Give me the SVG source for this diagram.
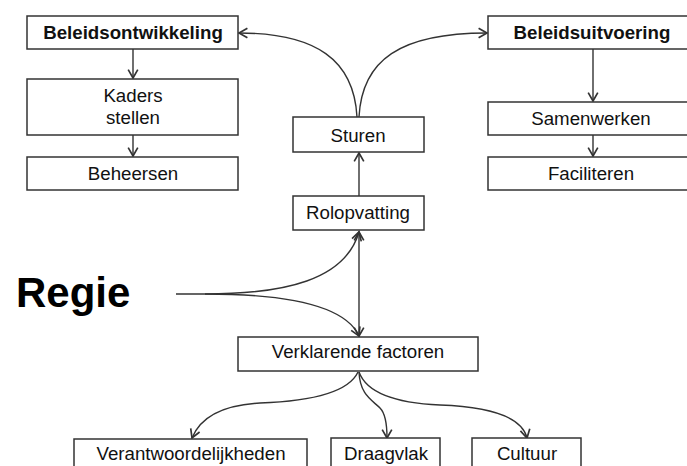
<svg xmlns="http://www.w3.org/2000/svg" width="687" height="466" viewBox="0 0 687 466">
<style>
.box{fill:#fff;stroke:#333;stroke-width:1.5}
.t{font-family:"Liberation Sans",Arial,sans-serif;font-size:18.7px;fill:#111;text-anchor:middle}
.b{font-weight:bold}
.c{fill:none;stroke:#333;stroke-width:1.4}
</style>
<defs>
<marker id="ah" markerUnits="userSpaceOnUse" markerWidth="12" markerHeight="12" refX="8" refY="5" orient="auto-start-reverse" viewBox="0 0 10 10">
<path d="M1,1 L8,5 L1,9" fill="none" stroke="#333" stroke-width="1.4"/>
</marker>
</defs>
<rect width="687" height="466" fill="#fff"/>
<g id="connectors">
<path class="c" d="M133,49 L133,78" marker-end="url(#ah)"/>
<path class="c" d="M133,135 L133,156" marker-end="url(#ah)"/>
<path class="c" d="M593,49 L593,101" marker-end="url(#ah)"/>
<path class="c" d="M593,135 L593,156" marker-end="url(#ah)"/>
<path class="c" d="M359,117 C362,60 400,33 487,33" marker-end="url(#ah)"/>
<path class="c" d="M357,117 C354,60 316,33 239,33" marker-end="url(#ah)"/>
<path class="c" d="M359,196 L359,153" marker-end="url(#ah)"/>
<path class="c" d="M359,232 L359,336" marker-start="url(#ah)" marker-end="url(#ah)"/>
<path class="c" d="M176,294 L205,294 C285,294 345,280 359,232" marker-end="url(#ah)"/>
<path class="c" d="M205,294 C285,294 345,305 359,336" marker-end="url(#ah)"/>
<path class="c" d="M358,372 Q345,400 260,403 Q205,406 192,438" marker-end="url(#ah)"/>
<path class="c" d="M359,372 C360,395 372,400 380,408 C386,414 387,425 387,438" marker-end="url(#ah)"/>
<path class="c" d="M359,372 Q370,402 440,405 Q520,408 527,438" marker-end="url(#ah)"/>
</g>
<g id="beleidsontwikkeling"><rect class="box" x="27" y="16" width="211" height="33"/><text class="t b" x="133" y="39">Beleidsontwikkeling</text></g>
<g id="kaders"><rect class="box" x="27" y="79" width="211" height="56"/><text class="t" x="133" y="102">Kaders</text><text class="t" x="133" y="124">stellen</text></g>
<g id="beheersen"><rect class="box" x="27" y="157" width="211" height="33"/><text class="t" x="133" y="180">Beheersen</text></g>
<g id="beleidsuitvoering"><rect class="box" x="488" y="16" width="210" height="33"/><text class="t b" x="592" y="39">Beleidsuitvoering</text></g>
<g id="samenwerken"><rect class="box" x="488" y="102" width="210" height="33"/><text class="t" x="591" y="125">Samenwerken</text></g>
<g id="faciliteren"><rect class="box" x="488" y="157" width="210" height="33"/><text class="t" x="591" y="180">Faciliteren</text></g>
<g id="sturen"><rect class="box" x="293" y="117" width="131" height="35"/><text class="t" x="358" y="142">Sturen</text></g>
<g id="rolopvatting"><rect class="box" x="293" y="196" width="131" height="34"/><text class="t" x="358" y="219">Rolopvatting</text></g>
<g id="regie"><text x="16" y="307" style="font-family:'Liberation Sans',Arial,sans-serif;font-size:42px;font-weight:bold;fill:#000">Regie</text></g>
<g id="verklarende"><rect class="box" x="238" y="337" width="240" height="34"/><text class="t" x="358" y="358">Verklarende factoren</text></g>
<g id="verantwoordelijkheden"><rect class="box" x="74" y="439" width="233" height="40"/><text class="t" x="191" y="460">Verantwoordelijkheden</text></g>
<g id="draagvlak"><rect class="box" x="331" y="438" width="109" height="40"/><text class="t" x="386" y="460">Draagvlak</text></g>
<g id="cultuur"><rect class="box" x="472" y="438" width="109" height="40"/><text class="t" x="527" y="460">Cultuur</text></g>
</svg>
